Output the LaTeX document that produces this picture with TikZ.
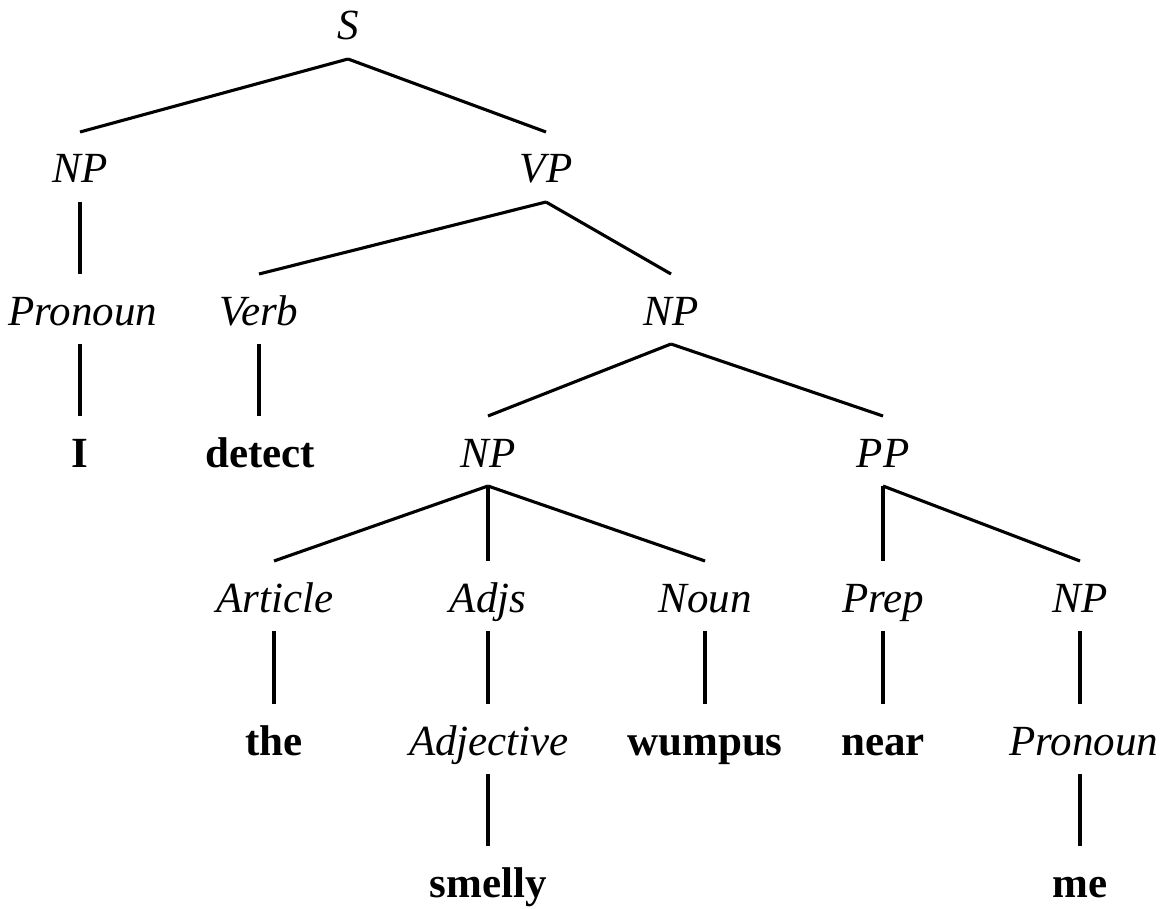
\documentclass[tikz,border=0pt]{standalone}
\usepackage{fontspec}
\setmainfont{Liberation Serif}
\newcommand\treebranch[2]{\draw[edge] ([yshift=-19pt]#1.base) -- ([yshift=51pt]#2.base);}
\begin{document}
\begin{tikzpicture}[x=1pt,y=-1pt,
  cat/.style={anchor=base,inner sep=0pt,font=\fontsize{43}{50}\selectfont\itshape},
  word/.style={anchor=base,inner sep=0pt,font=\fontsize{43}{50}\selectfont\bfseries},
  edge/.style={line width=3.1pt,line cap=butt}]
\useasboundingbox (0,0) rectangle (1169,909);
% row 0
\node[cat] (s) at (348,40) {S};
% row 1
\node[cat] (np1) at (80,183) {NP};
\node[cat] (vp) at (546,183) {VP};
% row 2
\node[cat] (pron1) at (83,325) {Pronoun};
\node[cat] (verb) at (259,325) {Verb};
\node[cat] (np2) at (671,325) {NP};
% row 3
\node[word] (i) at (80,467) {I};
\node[word] (detect) at (260,467) {detect};
\node[cat] (np3) at (488,467) {NP};
\node[cat] (pp) at (883,467) {PP};
% row 4
\node[cat] (art) at (275,612) {Article};
\node[cat] (adjs) at (488,612) {Adjs};
\node[cat] (noun) at (705,612) {Noun};
\node[cat] (prep) at (883,612) {Prep};
\node[cat] (np4) at (1080,612) {NP};
% row 5
\node[word] (the) at (274,755) {the};
\node[cat] (adj) at (489,755) {Adjective};
\node[word] (wumpus) at (705,755) {wumpus};
\node[word] (near) at (883,755) {near};
\node[cat] (pron2) at (1084,755) {Pronoun};
% row 6
\node[word] (smelly) at (488,897) {smelly};
\node[word] (me) at (1080,897) {me};
% edges
\treebranch{s}{np1}
\treebranch{s}{vp}
\draw[edge] ([yshift=-19pt]np1.base) -- ([xshift=-3pt,yshift=51pt]pron1.base);
\treebranch{vp}{verb}
\treebranch{vp}{np2}
\draw[edge] ([xshift=-3pt,yshift=-19pt]pron1.base) -- ([yshift=51pt]i.base);
\draw[edge] ([yshift=-19pt]verb.base) -- ([xshift=-1pt,yshift=51pt]detect.base);
\treebranch{np2}{np3}
\treebranch{np2}{pp}
\draw[edge] ([yshift=-19pt]np3.base) -- ([xshift=-1pt,yshift=51pt]art.base);
\treebranch{np3}{adjs}
\treebranch{np3}{noun}
\treebranch{pp}{prep}
\treebranch{pp}{np4}
\draw[edge] ([xshift=-1pt,yshift=-19pt]art.base) -- ([yshift=51pt]the.base);
\draw[edge] ([yshift=-19pt]adjs.base) -- ([xshift=-1pt,yshift=51pt]adj.base);
\treebranch{noun}{wumpus}
\treebranch{prep}{near}
\draw[edge] ([yshift=-19pt]np4.base) -- ([xshift=-4pt,yshift=51pt]pron2.base);
\draw[edge] ([xshift=-1pt,yshift=-19pt]adj.base) -- ([yshift=51pt]smelly.base);
\draw[edge] ([xshift=-4pt,yshift=-19pt]pron2.base) -- ([yshift=51pt]me.base);
\end{tikzpicture}
\end{document}
